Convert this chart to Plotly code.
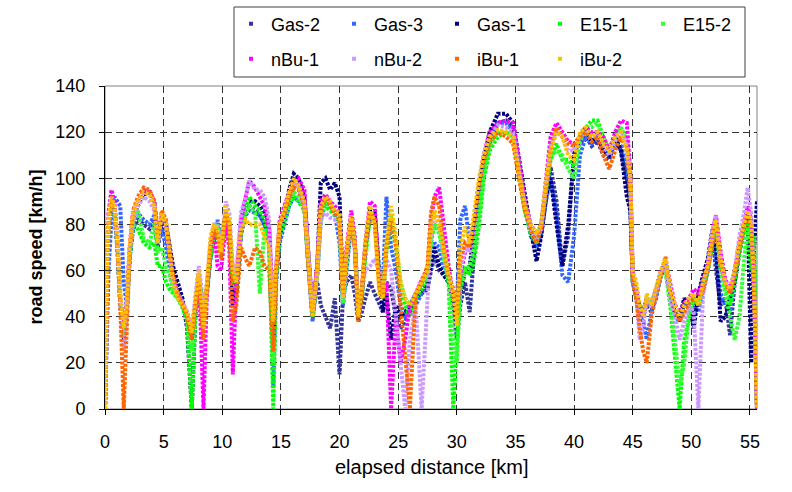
import plotly.graph_objects as go

# elapsed distance grid [km] (shared by all runs)
distance_km = [
    0.0, 0.15, 0.3, 0.55, 0.8, 1.05, 1.3, 1.6, 1.85, 2.1,
    2.4, 2.8, 3.3, 3.8, 4.2, 4.5, 4.85, 5.2, 5.5, 5.8,
    6.2, 6.6, 7.0, 7.4, 7.7, 8.0, 8.4, 8.7, 9.0, 9.3,
    9.6, 9.9, 10.3, 10.6, 10.9, 11.2, 11.6, 12.0, 12.3, 12.8,
    13.2, 13.6, 14.0, 14.35, 14.6, 14.9, 15.3, 15.7, 16.1, 16.5,
    17.0, 17.3, 17.7, 18.1, 18.4, 18.8, 19.2, 19.6, 20.0, 20.3,
    20.6, 21.0, 21.3, 21.6, 21.9, 22.2, 22.6, 23.0, 23.4, 23.7,
    24.0, 24.4, 24.8, 25.2, 25.6, 26.0, 26.5, 27.0, 27.5, 27.8,
    28.1, 28.5, 28.9, 29.3, 29.7, 30.0, 30.3, 30.7, 31.1, 31.5,
    31.9, 32.3, 32.8, 33.5, 34.2, 34.8, 35.3, 35.8, 36.3, 36.8,
    37.2, 37.6, 38.0, 38.5, 39.0, 39.5, 40.0, 40.5, 41.0, 41.5,
    42.0, 42.5, 43.0, 43.5, 44.0, 44.5, 44.8, 45.0, 45.3, 45.6,
    45.9, 46.2, 46.6, 47.0, 47.4, 47.8, 48.2, 48.6, 49.0, 49.4,
    49.8, 50.2, 50.6, 51.0, 51.4, 51.8, 52.1, 52.5, 52.9, 53.3,
    53.7, 54.1, 54.5, 54.8, 55.1, 55.35, 55.6,
]

# road speed [km/h] per run
gas_2 = [
    0, 55, 78, 86, 84, 70, 45, 30, 42, 66,
    78, 82, 80, 78, 82, 70, 80, 76, 66, 60,
    52, 46, 40, 30, 42, 55, 42, 52, 68, 76,
    80, 68, 84, 80, 55, 50, 76, 85, 88, 86,
    84, 80, 74, 35, 60, 76, 84, 92, 100, 97,
    90, 66, 40, 55, 45, 40, 35, 48, 15, 50,
    55, 58, 50, 38, 42, 48, 55, 50, 45, 42,
    55, 52, 40, 35, 38, 42, 48, 50, 52, 60,
    66, 60, 58, 55, 45, 30, 45, 55, 42, 70,
    92, 105, 115, 124, 125, 122, 106, 90, 78, 70,
    76, 92, 105, 90, 62, 75, 112, 115, 118, 114,
    116, 110, 108, 116, 112, 100, 88, 55, 48, 42,
    40, 45, 42, 50, 58, 62, 50, 42, 38, 46,
    45, 40, 50, 56, 62, 76, 60, 45, 48, 32,
    55, 68, 78, 82, 70, 60, 0,
]
gas_3 = [
    0, 30, 60, 82, 92, 90, 88, 55, 45, 65,
    80, 85, 82, 80, 84, 72, 78, 70, 60, 52,
    50, 46, 40, 30, 44, 58, 40, 50, 66, 75,
    82, 72, 85, 80, 50, 55, 76, 84, 86, 85,
    84, 80, 72, 10, 55, 72, 80, 88, 92, 90,
    88, 65, 38, 58, 82, 90, 88, 85, 72, 45,
    62, 80, 70, 40, 48, 70, 82, 85, 60, 55,
    92, 70, 60, 45, 40, 42, 45, 50, 55, 62,
    72, 70, 60, 56, 48, 45, 82, 88, 72, 80,
    95, 108, 118, 124, 124, 120, 104, 88, 75, 70,
    76, 90, 100, 85, 58, 55, 75, 110, 118, 115,
    118, 112, 110, 116, 114, 104, 90, 55, 48, 40,
    38, 30, 42, 48, 58, 64, 50, 40, 38, 46,
    45, 44, 42, 50, 60, 72, 65, 50, 45, 42,
    55, 68, 78, 82, 76, 52, 0,
]
gas_1 = [
    0, 50, 78, 88, 86, 72, 48, 30, 44, 66,
    82, 88, 93, 94, 90, 74, 82, 80, 70, 62,
    55, 48, 35, 0, 40, 55, 45, 52, 66, 74,
    80, 70, 85, 80, 45, 52, 78, 88, 90, 90,
    88, 85, 78, 30, 60, 75, 85, 95, 102, 100,
    92, 70, 42, 62, 98, 100, 95, 98, 92, 50,
    65, 82, 72, 40, 50, 70, 86, 85, 55, 42,
    50, 30, 45, 40, 42, 45, 50, 52, 55, 62,
    70, 62, 58, 55, 45, 38, 50, 60, 62, 80,
    95, 108, 120, 128, 128, 124, 108, 92, 78, 64,
    75, 92, 100, 80, 62, 80, 110, 118, 122, 116,
    118, 112, 110, 118, 112, 92, 86, 58, 50, 45,
    42, 48, 45, 50, 58, 62, 50, 42, 40, 48,
    45, 35, 50, 58, 65, 78, 70, 38, 40, 48,
    55, 70, 80, 84, 20, 70, 90,
]
e15_1 = [
    0, 55, 78, 88, 86, 72, 46, 32, 42, 66,
    80, 78, 72, 70, 72, 62, 62, 55, 52, 50,
    48, 44, 38, 0, 40, 56, 42, 52, 66, 74,
    78, 68, 82, 78, 55, 52, 78, 88, 92, 88,
    86, 82, 74, 0, 58, 75, 82, 88, 92, 90,
    86, 65, 40, 58, 84, 88, 86, 84, 80, 46,
    64, 80, 72, 42, 48, 68, 84, 82, 55, 48,
    68, 82, 70, 52, 45, 40, 48, 52, 58, 72,
    80, 78, 65, 55, 0, 30, 55, 62, 58, 65,
    80, 100, 112, 118, 120, 118, 102, 86, 76, 72,
    80, 94, 108, 115, 108, 108, 105, 118, 122, 125,
    125, 118, 112, 118, 122, 116, 102, 55, 48, 42,
    40, 46, 45, 50, 58, 60, 45, 20, 0, 30,
    40, 48, 45, 52, 60, 72, 80, 62, 52, 45,
    55, 68, 76, 80, 60, 75, 0,
]
e15_2 = [
    0, 58, 80, 90, 86, 72, 48, 35, 44, 68,
    82, 86, 74, 72, 80, 68, 70, 62, 58, 52,
    48, 45, 40, 25, 42, 58, 40, 52, 68, 76,
    80, 70, 84, 80, 58, 55, 78, 85, 88, 85,
    50, 78, 72, 20, 60, 78, 84, 90, 94, 92,
    88, 66, 42, 60, 86, 90, 88, 85, 82, 46,
    62, 82, 72, 44, 50, 66, 84, 82, 58, 50,
    70, 84, 72, 55, 48, 45, 50, 55, 58, 74,
    80, 76, 66, 56, 30, 20, 52, 60, 62, 70,
    85, 102, 114, 120, 120, 118, 104, 86, 78, 72,
    80, 96, 110, 112, 110, 104, 100, 116, 122, 122,
    124, 116, 112, 118, 122, 116, 100, 56, 50, 44,
    42, 48, 46, 52, 58, 60, 48, 30, 10, 20,
    42, 48, 46, 54, 62, 74, 80, 60, 50, 40,
    30, 40, 65, 78, 72, 60, 0,
]
nbu_1 = [
    0, 62, 85, 95, 90, 74, 48, 38, 46, 70,
    86, 90, 95, 94, 90, 74, 84, 80, 68, 56,
    50, 46, 42, 35, 44, 60, 0, 52, 70, 78,
    62, 60, 80, 70, 15, 55, 82, 92, 99, 96,
    92, 88, 78, 40, 62, 82, 88, 94, 99, 100,
    95, 70, 42, 62, 90, 93, 90, 88, 85, 50,
    70, 86, 75, 42, 52, 72, 90, 88, 55, 48,
    55, 0, 40, 20, 30, 45, 50, 56, 60, 82,
    92, 96, 78, 62, 48, 40, 58, 68, 70, 82,
    98, 110, 120, 124, 125, 124, 108, 90, 80, 76,
    80, 100, 118, 124, 120, 116, 115, 118, 122, 120,
    120, 118, 112, 120, 125, 124, 102, 58, 52, 42,
    40, 48, 45, 52, 60, 64, 55, 45, 42, 46,
    48, 52, 50, 56, 62, 76, 84, 68, 56, 52,
    60, 72, 80, 88, 82, 55, 0,
]
nbu_2 = [
    0, 55, 80, 90, 86, 72, 45, 25, 42, 68,
    82, 88, 92, 90, 86, 72, 85, 80, 68, 56,
    50, 46, 42, 35, 48, 62, 45, 55, 72, 80,
    80, 70, 90, 85, 62, 60, 85, 92, 99, 95,
    95, 92, 82, 40, 62, 80, 86, 93, 98, 96,
    88, 66, 42, 58, 82, 85, 83, 82, 80, 48,
    65, 80, 70, 42, 50, 60, 62, 65, 60, 50,
    65, 60, 40, 20, 0, 30, 45, 0, 50, 76,
    84, 80, 66, 58, 50, 42, 60, 70, 68, 80,
    98, 110, 118, 123, 122, 120, 104, 88, 78, 74,
    78, 98, 114, 120, 118, 112, 112, 118, 120, 118,
    118, 114, 110, 116, 120, 114, 100, 58, 50, 30,
    35, 48, 44, 50, 58, 62, 48, 40, 30, 38,
    45, 42, 0, 50, 62, 78, 84, 62, 54, 50,
    60, 75, 85, 96, 85, 50, 0,
]
ibu_1 = [
    0, 55, 80, 90, 88, 72, 45, 0, 40, 68,
    86, 92, 96, 95, 90, 75, 86, 82, 70, 58,
    50, 45, 40, 30, 45, 55, 30, 52, 70, 78,
    75, 65, 85, 78, 38, 45, 70, 65, 62, 70,
    68, 62, 60, 25, 60, 80, 85, 92, 96, 95,
    88, 65, 40, 62, 86, 92, 88, 85, 82, 50,
    68, 82, 70, 38, 50, 70, 85, 82, 52, 48,
    70, 82, 72, 45, 20, 0, 50, 55, 62, 85,
    92, 88, 70, 58, 52, 40, 65, 72, 70, 82,
    98, 108, 116, 120, 118, 115, 100, 86, 78, 72,
    78, 96, 112, 122, 118, 115, 114, 118, 120, 116,
    118, 110, 104, 112, 118, 112, 98, 55, 48, 35,
    25, 20, 40, 50, 58, 66, 52, 44, 38, 42,
    46, 48, 45, 52, 60, 72, 80, 62, 55, 50,
    58, 70, 78, 84, 78, 50, 0,
]
ibu_2 = [
    0, 60, 82, 92, 88, 75, 50, 35, 45, 70,
    85, 90, 94, 93, 88, 72, 85, 80, 68, 55,
    48, 45, 42, 33, 45, 60, 35, 55, 75, 80,
    78, 68, 88, 82, 60, 55, 78, 82, 80, 80,
    80, 75, 70, 38, 62, 80, 86, 94, 100, 97,
    90, 68, 40, 60, 88, 92, 90, 86, 85, 48,
    68, 84, 72, 40, 52, 72, 88, 80, 50, 48,
    72, 88, 75, 55, 48, 45, 50, 55, 60, 78,
    86, 80, 68, 58, 50, 36, 70, 79, 72, 85,
    100, 110, 118, 121, 120, 118, 102, 88, 80, 76,
    80, 98, 112, 120, 118, 110, 108, 120, 122, 118,
    120, 115, 112, 118, 120, 113, 100, 60, 55, 45,
    40, 50, 45, 52, 60, 65, 52, 45, 40, 45,
    48, 50, 45, 55, 62, 75, 82, 65, 55, 52,
    60, 72, 80, 86, 80, 55, 0,
]

series_names = ["Gas-2", "Gas-3", "Gas-1", "E15-1", "E15-2",
                "nBu-1", "nBu-2", "iBu-1", "iBu-2"]
series_values = [gas_2, gas_3, gas_1, e15_1, e15_2, nbu_1, nbu_2, ibu_1, ibu_2]
series_colors = ["#333399", "#3366FF", "#000080", "#00FF00", "#33FF33",
                 "#FF00FF", "#CC99FF", "#FF6600", "#FFC000"]
legend_ids = ["legend"] * 5 + ["legend2"] * 4

x_ticks = [0, 5, 10, 15, 20, 25, 30, 35, 40, 45, 50, 55]
y_ticks = [0, 20, 40, 60, 80, 100, 120, 140]

FONT = "Liberation Sans, Arial, sans-serif"

fig = go.Figure()
for name, vals, col in zip(series_names, series_values, series_colors):
    fig.add_trace(go.Scatter(
        x=distance_km, y=vals, mode="lines", name=name, showlegend=False,
        line=dict(color=col, width=4, dash="3px,1.5px"),
        hoverinfo="skip",
    ))
# legend-only entries (single dot symbol like the reference)
for name, col, lg in zip(series_names, series_colors, legend_ids):
    fig.add_trace(go.Scatter(
        x=[None], y=[None], mode="markers", name=name, legend=lg,
        marker=dict(color=col, size=4, symbol="square"),
        showlegend=True,
    ))

W, H = 792, 492
L, R, T, B = 105, 35, 86, 83
pw, ph = W - L - R, H - T - B

def px_x(p):
    return (p - L) / pw

def px_y(p):
    return (H - B - p) / ph

legend_common = dict(
    orientation="h", xanchor="left", yanchor="middle",
    font=dict(family=FONT, size=18, color="black"),
    bgcolor="rgba(0,0,0,0)", borderwidth=0,
    entrywidth=58, entrywidthmode="pixels",
    itemwidth=30, tracegroupgap=0,
)

fig.update_layout(
    width=W, height=H,
    margin=dict(l=L, r=R, t=T, b=B, pad=0, autoexpand=False),
    paper_bgcolor="white", plot_bgcolor="white",
    font=dict(family=FONT, size=18, color="black"),
    showlegend=True,
    legend=dict(x=px_x(231), y=px_y(24), **legend_common),
    legend2=dict(x=px_x(231), y=px_y(59), **legend_common),
    xaxis=dict(
        range=[0, 55.6], tickvals=x_ticks, ticktext=[str(v) for v in x_ticks],
        showgrid=True, gridcolor="#333333", gridwidth=1, griddash="7px,4px",
        showline=True, linecolor="black", linewidth=1, zeroline=False,
        ticks="outside", ticklen=5, tickcolor="black", ticklabelstandoff=11,
        tickfont=dict(family=FONT, size=18, color="black"), automargin=False,
    ),
    yaxis=dict(
        range=[0, 140], tickvals=y_ticks, ticktext=[str(v) for v in y_ticks],
        showgrid=True, gridcolor="#333333", gridwidth=1, griddash="7px,4px",
        showline=True, linecolor="black", linewidth=1, zeroline=False,
        ticks="outside", ticklen=5, tickcolor="black", ticklabelstandoff=10,
        tickfont=dict(family=FONT, size=18, color="black"), automargin=False,
    ),
    shapes=[
        # plot-area frame (grey top/right)
        dict(type="rect", xref="paper", yref="paper", x0=0, x1=1, y0=0, y1=1,
             line=dict(color="#808080", width=1), layer="below"),
        # legend box
        dict(type="rect", xref="paper", yref="paper",
             x0=px_x(234), x1=px_x(745), y0=px_y(77), y1=px_y(7),
             line=dict(color="#404040", width=1)),
    ],
    annotations=[
        dict(text="elapsed distance [km]", xref="paper", yref="paper",
             x=0.5, y=px_y(467), xanchor="center", yanchor="middle",
             showarrow=False, font=dict(family=FONT, size=20, color="black")),
        dict(text="<b>road speed [km/h]</b>", xref="paper", yref="paper",
             x=px_x(35), y=0.5, xanchor="center", yanchor="middle",
             textangle=-90, showarrow=False,
             font=dict(family=FONT, size=18, color="black")),
    ],
)

fig.write_html("out.html")
